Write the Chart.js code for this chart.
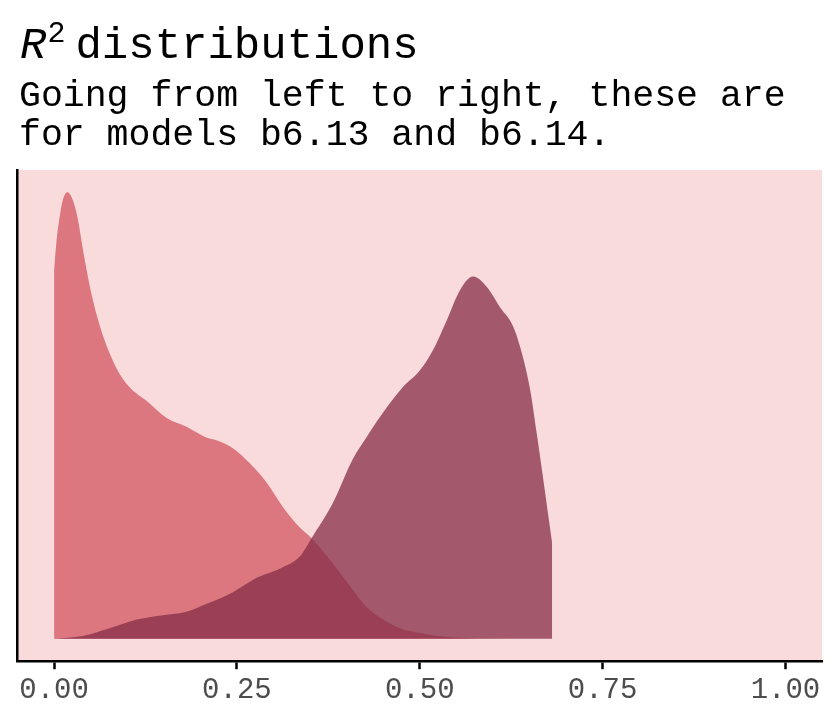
<!DOCTYPE html>
<html>
<head>
<meta charset="utf-8">
<script src="https://cdn.jsdelivr.net/npm/chart.js@4.4.0/dist/chart.umd.min.js"></script>
<style>
  html, body { margin: 0; padding: 0; background: #ffffff; }
  #wrap { position: relative; width: 840px; height: 720px; overflow: hidden; }
  #c { position: absolute; left: 0; top: 0; }
  .txt { position: absolute; font-family: "Liberation Mono", "DejaVu Sans Mono", monospace; color: #000; white-space: pre; }
  #title { left: 20px; top: 24px; font-size: 44px; line-height: 44px; }
  #title i { font-style: italic; }
  #title .sup { font-size: 30px; position: relative; top: -16px; margin-left: 1px; }
  #title .rest { margin-left: 10px; }
  #subtitle { left: 19px; top: 77px; font-size: 36.5px; line-height: 39px; }
</style>
</head>
<body>
<div id="wrap">
  <canvas id="c" width="840" height="720"></canvas>
  <div id="title" class="txt"><i>R</i><span class="sup">2</span><span class="rest">distributions</span></div>
  <div id="subtitle" class="txt">Going from left to right, these are
for models b6.13 and b6.14.</div>
</div>
<script>
// Density of R^2 for model b6.13 (x positions and density heights)
const b613X = [0, 0.003, 0.0075, 0.012, 0.018, 0.030, 0.042, 0.053, 0.066, 0.085, 0.103, 0.126, 0.154, 0.181, 0.208, 0.222, 0.244, 0.268, 0.291, 0.313, 0.336, 0.352, 0.381, 0.405, 0.427, 0.450, 0.473, 0.500, 0.530, 0.560, 0.600, 0.640, 0.681];
const b613Y = [3.80, 4.08, 4.35, 4.53, 4.61, 4.42, 3.91, 3.50, 3.15, 2.80, 2.60, 2.46, 2.28, 2.19, 2.08, 2.05, 1.97, 1.81, 1.61, 1.36, 1.15, 1.04, 0.78, 0.54, 0.33, 0.20, 0.11, 0.06, 0.025, 0.01, 0.004, 0.002, 0.001];

// Density of R^2 for model b6.14
const b614X = [0, 0.039, 0.076, 0.113, 0.144, 0.181, 0.208, 0.244, 0.277, 0.313, 0.336, 0.352, 0.381, 0.408, 0.427, 0.455, 0.477, 0.500, 0.518, 0.537, 0.555, 0.573, 0.592, 0.610, 0.628, 0.641, 0.651, 0.660, 0.669, 0.681];
const b614Y = [0.00, 0.03, 0.11, 0.20, 0.24, 0.28, 0.36, 0.48, 0.63, 0.74, 0.85, 1.04, 1.40, 1.85, 2.08, 2.39, 2.60, 2.77, 2.98, 3.29, 3.60, 3.74, 3.63, 3.42, 3.22, 2.91, 2.57, 2.12, 1.64, 0.99];

// x-axis ticks
const xTickValues = [0, 0.25, 0.5, 0.75, 1];
const xTickLabels = ['0.00', '0.25', '0.50', '0.75', '1.00'];

const yMaxData = Math.max(...b613Y, ...b614Y);

const panelBg = {
  id: 'panelBg',
  beforeDraw(chart) {
    const { ctx, chartArea: a } = chart;
    ctx.save();
    ctx.fillStyle = '#F9DBDC';
    ctx.fillRect(a.left, a.top, a.right - a.left, a.bottom - a.top);
    ctx.restore();
  }
};

new Chart(document.getElementById('c'), {
  type: 'line',
  data: {
    datasets: [
      {
        label: 'b6.13',
        data: b613X.map((x, i) => ({ x: x, y: b613Y[i] })),
        fill: 'origin',
        backgroundColor: 'rgba(209,85,97,0.75)',
        borderColor: 'rgba(0,0,0,0)',
        borderWidth: 0,
        pointRadius: 0,
        cubicInterpolationMode: 'monotone',
        order: 2
      },
      {
        label: 'b6.14',
        data: b614X.map((x, i) => ({ x: x, y: b614Y[i] })),
        fill: 'origin',
        backgroundColor: 'rgba(133,44,70,0.75)',
        borderColor: 'rgba(0,0,0,0)',
        borderWidth: 0,
        pointRadius: 0,
        cubicInterpolationMode: 'monotone',
        order: 1
      }
    ]
  },
  options: {
    responsive: false,
    animation: false,
    devicePixelRatio: 1,
    layout: { padding: { top: 170, left: 9.5, right: 18, bottom: 8 } },
    plugins: { legend: { display: false }, tooltip: { enabled: false }, title: { display: false } },
    scales: {
      x: {
        type: 'linear',
        min: -0.05,
        max: 1.05,
        afterBuildTicks: (s) => { s.ticks = xTickValues.map(v => ({ value: v })); },
        ticks: {
          callback: (v, i) => xTickLabels[i],
          font: { family: 'Liberation Mono', size: 29 },
          color: '#4D4D4D',
          padding: 4,
          maxRotation: 0,
          autoSkip: false
        },
        grid: { display: true, drawOnChartArea: false, drawTicks: true, tickLength: 8, tickColor: '#000', tickWidth: 2.5 },
        border: { display: true, color: '#000', width: 2.5 }
      },
      y: {
        type: 'linear',
        min: -0.05 * yMaxData,
        max: 1.05 * yMaxData,
        ticks: { display: false },
        grid: { display: false },
        border: { display: true, color: '#000', width: 2.5 }
      }
    }
  },
  plugins: [panelBg]
});
</script>
</body>
</html>
